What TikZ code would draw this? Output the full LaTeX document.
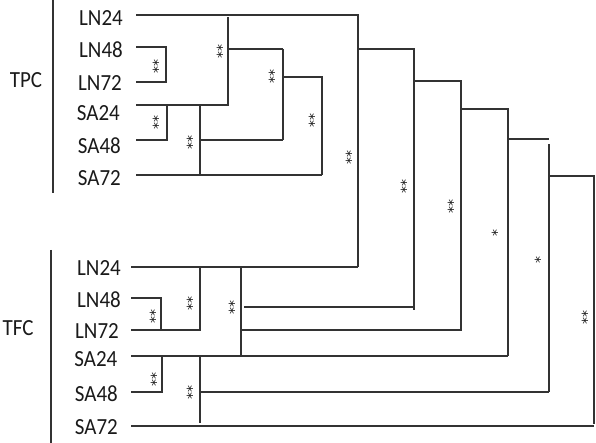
\documentclass[tikz,border=0pt]{standalone}
\usepackage{fontspec}
\setmainfont{Carlito}
\newfontfamily\astfont{DejaVu Sans}
\definecolor{ln}{HTML}{333333}
\definecolor{tx}{HTML}{1A1A1A}
\begin{document}
\begin{tikzpicture}[x=1pt,y=-1pt,
  lab/.style={anchor=east,inner sep=0pt,text=tx,font=\fontsize{21}{21}\selectfont},
  grp/.style={inner sep=0pt,text=tx,font=\fontsize{21}{21}\selectfont},
  sig/.style={rotate=90,inner sep=0pt,text=tx,font=\astfont\fontsize{14}{14}\selectfont},
  br/.style={draw=ln,line width=1.2pt}]
\useasboundingbox (0,0) rectangle (596,443);
% group labels and rules
\node[grp] (tpc) at (26,80) {\scalebox{1}[1.1]{TPC}};
\node[grp] (tfc) at (18,328) {\scalebox{1}[1.1]{TFC}};
\draw[br] (53,0) -- (53,193);
\draw[br] (51,250) -- (51,443);
% TPC leaf labels
\node[lab] (p1) at (123,18) {\scalebox{1}[1.1]{LN24}};
\node[lab] (p2) at (123,50) {\scalebox{1}[1.1]{LN48}};
\node[lab] (p3) at (122,83) {\scalebox{1}[1.1]{LN72}};
\node[lab] (p4) at (120,113) {\scalebox{1}[1.1]{SA24}};
\node[lab] (p5) at (121,146) {\scalebox{1}[1.1]{SA48}};
\node[lab] (p6) at (121,178) {\scalebox{1}[1.1]{SA72}};
% TFC leaf labels
\node[lab] (f1) at (121,268) {\scalebox{1}[1.1]{LN24}};
\node[lab] (f2) at (121,300) {\scalebox{1}[1.1]{LN48}};
\node[lab] (f3) at (119,331) {\scalebox{1}[1.1]{LN72}};
\node[lab] (f4) at (117.5,359) {\scalebox{1}[1.1]{SA24}};
\node[lab] (f5) at (118,394) {\scalebox{1}[1.1]{SA48}};
\node[lab] (f6) at (118,427.5) {\scalebox{1}[1.1]{SA72}};
% TPC tree
\draw[br] (136,15) -- (358,15) -- (358,267);
\draw[br] (136,47) -- (166,47) -- (166,82) -- (136,82);
\draw[br] (136,105) -- (228,105) -- (228,17);
\draw[br] (228,49) -- (283,49);
\draw[br] (136,140) -- (167,140) -- (167,105);
\draw[br] (200,105) -- (200,175);
\draw[br] (200,140) -- (283,140);
\draw[br] (136,175) -- (322,175);
\draw[br] (283,49) -- (283,140);
\draw[br] (283,77) -- (322,77) -- (322,175);
\draw[br] (358,49) -- (414,49) -- (414,310);
\draw[br] (414,81) -- (461,81) -- (461,331);
\draw[br] (461,109) -- (508,109) -- (508,356);
\draw[br] (508,139) -- (549,139);
\draw[br] (549,144) -- (549,392);
\draw[br] (549,176) -- (594,176) -- (594,424);
% TFC tree
\draw[br] (131,267) -- (358,267);
\draw[br] (131,298) -- (161,298) -- (161,330);
\draw[br] (131,330) -- (200,330) -- (200,267);
\draw[br] (241,267) -- (241,356);
\draw[br] (244,307) -- (414,307);
\draw[br] (241,330) -- (461,330);
\draw[br] (131,356) -- (508,356);
\draw[br] (131,392) -- (162,392) -- (162,356);
\draw[br] (200,356) -- (200,423);
\draw[br] (200,392) -- (549,392);
\draw[br] (131,426) -- (594,426);
% significance marks
\node[sig] (s1) at (158,67) {**};
\node[sig] (s2) at (158,123) {**};
\node[sig] (s3) at (192,143) {**};
\node[sig] (s4) at (222,52) {**};
\node[sig] (s5) at (274,77) {**};
\node[sig] (s6) at (314,121) {**};
\node[sig] (s7) at (351,158) {**};
\node[sig] (s8) at (406,187) {**};
\node[sig] (s9) at (453,207) {**};
\node[sig] (s10) at (497,233) {*};
\node[sig] (s11) at (540,260) {*};
\node[sig] (s12) at (587,317) {**};
\node[sig] (t1) at (155,316) {**};
\node[sig] (t2) at (192,303) {**};
\node[sig] (t3) at (234,307) {**};
\node[sig] (t4) at (156,379) {**};
\node[sig] (t5) at (192,392) {**};
\end{tikzpicture}
\end{document}
